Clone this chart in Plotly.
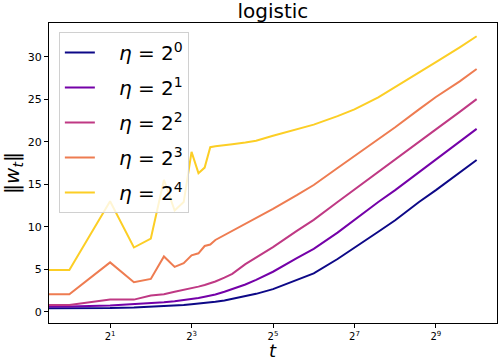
import math
import plotly.graph_objects as go

# iterations t (0 is clipped off the left edge like matplotlib's log axis does)
t_vals = [0, 1, 2, 3, 4, 5, 6, 7, 8, 9, 10, 11, 12, 14, 16, 20, 24, 32, 48, 64,
          96, 128, 192, 256, 384, 512, 768, 1024]

# ||w_t|| for each step size eta = 2^k
w_eta1 = [0.35, 0.35, 0.42, 0.5, 0.58, 0.65, 0.72, 0.8, 0.88, 0.95, 1.03, 1.1, 1.18, 1.33,
          1.5, 1.8, 2.1, 2.65, 3.7, 4.5, 6.2, 7.5, 9.4, 10.75, 12.9, 14.3, 16.4, 17.85]
w_eta2 = [0.6, 0.6, 0.72, 0.85, 1.0, 1.1, 1.22, 1.35, 1.48, 1.62, 1.76, 1.9, 2.02, 2.35,
          2.65, 3.2, 3.75, 4.7, 6.3, 7.4, 9.3, 10.8, 12.9, 14.3, 16.4, 17.9, 20.0, 21.5]
w_eta4 = [0.8, 0.8, 1.42, 1.42, 1.9, 2.05, 2.35, 2.55, 2.75, 2.95, 3.14, 3.35, 3.55, 4.0,
          4.45, 5.6, 6.4, 7.6, 9.5, 10.8, 12.9, 14.35, 16.4, 17.9, 20.0, 21.45, 23.5, 25.0]
w_eta8 = [2.05, 2.05, 5.8, 3.46, 3.85, 6.5, 5.27, 5.7, 6.63, 6.87, 7.73, 7.9, 8.44, 9.0,
          9.5, 10.3, 11.0, 12.1, 13.7, 14.9, 16.9, 18.3, 20.3, 21.7, 23.8, 25.25, 27.1, 28.55]
w_eta16 = [4.9, 4.9, 13.0, 7.55, 8.6, 15.5, 11.9, 12.9, 18.8, 16.3, 16.95, 19.35, 19.45, 19.55,
           19.7, 19.9, 20.1, 20.7, 21.5, 22.0, 23.0, 23.8, 25.2, 26.4, 28.1, 29.35, 31.1, 32.4]

eta_pows = [0, 1, 2, 3, 4]
x_tick_pows = [1, 3, 5, 7, 9]
y_ticks = [0, 5, 10, 15, 20, 25, 30]

# plasma colormap sampled at 0 .. 0.9
colors = ['#0d0887', '#7401a8', '#bf3984', '#ee7c51', '#fcce25']

FONT = "DejaVu Sans"
NBSP = "\u00a0"

t_plot = [t if t > 0 else 1e-3 for t in t_vals]
series = [w_eta1, w_eta2, w_eta4, w_eta8, w_eta16]

fig = go.Figure()
for k, w, c in zip(eta_pows, series, colors):
    fig.add_trace(go.Scatter(
        x=t_plot, y=w, mode='lines',
        name=f"{NBSP * 3}<i>η</i> = 2<sup>{k}</sup>",
        legendgroup=str(k),
        line=dict(color=c, width=2),
    ))

fig.update_layout(
    width=498, height=363,
    margin=dict(l=49, r=1, t=23, b=40, autoexpand=False),
    plot_bgcolor='white', paper_bgcolor='white',
    font=dict(family=FONT, color='black', size=10),
    title=dict(text="logistic", x=0.548, xanchor='center',
               y=1, yref='paper', yanchor='bottom', pad=dict(b=5),
               font=dict(size=20, family=FONT)),
    legend=dict(x=0.022, y=0.97, xanchor='left', yanchor='top',
                bgcolor='rgba(255,255,255,0.8)', bordercolor='#d0d0d0', borderwidth=1,
                font=dict(size=20, family=FONT), tracegroupgap=6),
    showlegend=True,
)

# x label as an annotation, its box ending at the bottom of the figure
fig.add_annotation(text="<i>t</i>", xref='paper', yref='paper', x=0.5, y=0,
                   xanchor='center', yanchor='bottom', yshift=-40, showarrow=False,
                   font=dict(size=18, family=FONT))

fig.update_xaxes(
    type='log', automargin=False,
    range=[math.log10(2 ** -0.5), math.log10(2 ** 10.5)],
    tickvals=[2 ** p for p in x_tick_pows],
    ticktext=[f"2<sup>{p}</sup>" for p in x_tick_pows],
    tickfont=dict(size=10),
    ticks='outside', ticklen=4, tickcolor='black',
    showline=True, linecolor='black', linewidth=1, mirror=True,
    showgrid=False, zeroline=False,
)
fig.update_yaxes(
    automargin=False,
    range=[-1.33, 33.96],
    tickvals=y_ticks,
    tickfont=dict(size=11),
    ticks='outside', ticklen=4, tickcolor='black',
    showline=True, linecolor='black', linewidth=1, mirror=True,
    showgrid=False, zeroline=False,
    title=dict(text="‖<i>w<sub>t</sub></i>‖", font=dict(size=20, family=FONT), standoff=6),
)

# drop the page's default 8px body margin so the figure sits at the window corner
fig.write_html("out.html", config={'displayModeBar': False},
               post_script="document.body.style.margin = '0';")
